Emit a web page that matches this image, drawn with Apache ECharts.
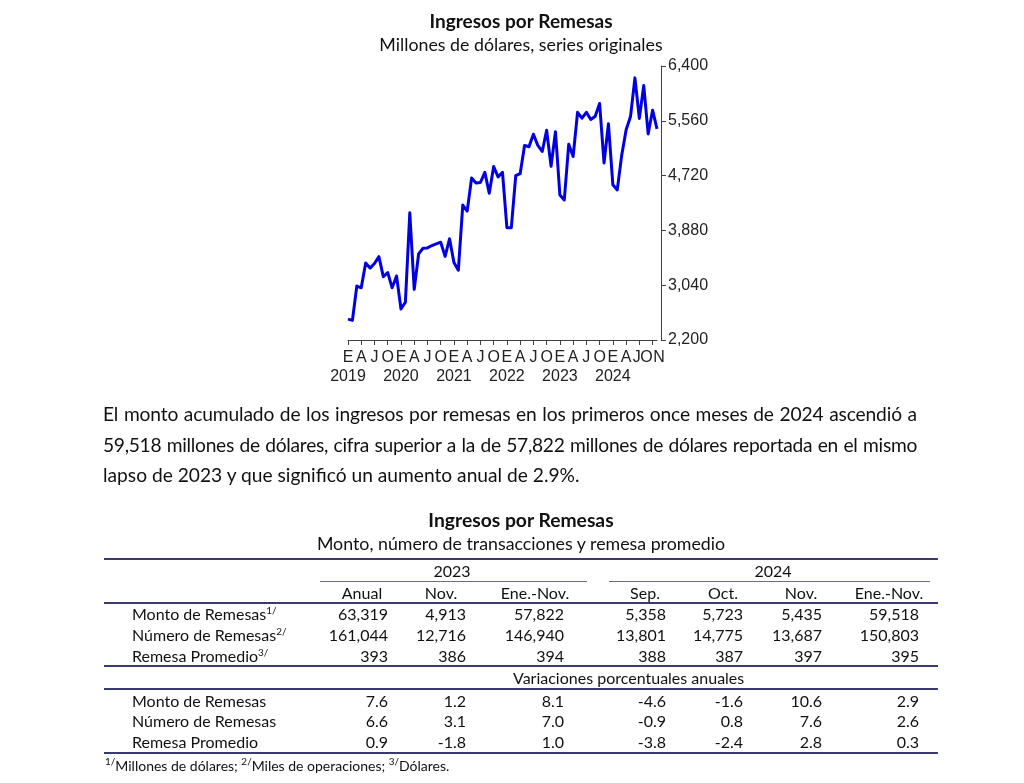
<!DOCTYPE html>
<html>
<head>
<meta charset="utf-8">
<script src="https://cdn.jsdelivr.net/npm/echarts@6/dist/echarts.min.js"></script>
<style>
  html, body { margin: 0; padding: 0; background: #ffffff; }
  #page { position: relative; width: 1024px; height: 783px; overflow: hidden; font-family: Lato, "Open Sans", sans-serif; color: #111; }
  #chart { position: absolute; left: 0; top: 0; width: 1024px; height: 783px; }
  #overlay { position: absolute; left: 0; top: 0; width: 1024px; height: 783px; pointer-events: none; }
  .abs { position: absolute; white-space: nowrap; }
  .pline { position: absolute; left: 103px; width: 814px; font-size: 19.2px; line-height: 24px; white-space: nowrap; color: #111; }
  .pline.just { text-align: justify; text-align-last: justify; }
  .hline { position: absolute; height: 0; }
  sup { font-size: 10px; vertical-align: 0; position: relative; top: -6px; }
</style>
</head>
<body>
<div id="page">
  <div id="chart"></div>
  <div id="overlay"></div>
</div>
<script>
// ---------- Chart data ----------
const yearLabels = ['2019', '2020', '2021', '2022', '2023', '2024'];
const monthLetters = [
  'E','','','A','','','J','','','O','','',
  'E','','','A','','','J','','','O','','',
  'E','','','A','','','J','','','O','','',
  'E','','','A','','','J','','','O','','',
  'E','','','A','','','J','','','O','','',
  'E','','','A','','','J','','','O','N'
];
const remesas = [
  2520, 2500, 3027, 3000, 3379, 3302, 3373, 3477, 3171, 3234, 3000, 3182,
  2675, 2779, 4149, 2976, 3519, 3606, 3612, 3648, 3674, 3699, 3482, 3751,
  3389, 3271, 4268, 4175, 4682, 4605, 4614, 4769, 4449, 4858, 4700, 4769,
  3922, 3922, 4718, 4749, 5183, 5163, 5354, 5183, 5090, 5416, 4862, 5392,
  4423, 4346, 5199, 5012, 5690, 5600, 5690, 5580, 5630, 5825, 4913, 5515,
  4578, 4501, 5030, 5418, 5625, 6218, 5597, 6100, 5358, 5723, 5435
];
const yMin = 2200, yMax = 6400, yStep = 840;

// ---------- Table data ----------
const tableTitle = 'Ingresos por Remesas';
const tableSubtitle = 'Monto, número de transacciones y remesa promedio';
const groupYears = ['2023', '2024'];
const colHeaders = ['Anual', 'Nov.', 'Ene.-Nov.', 'Sep.', 'Oct.', 'Nov.', 'Ene.-Nov.'];
const rowLabels = ['Monto de Remesas', 'Número de Remesas', 'Remesa Promedio'];
const rowNotes = ['1/', '2/', '3/'];
const levelRows = [
  ['63,319', '4,913', '57,822', '5,358', '5,723', '5,435', '59,518'],
  ['161,044', '12,716', '146,940', '13,801', '14,775', '13,687', '150,803'],
  ['393', '386', '394', '388', '387', '397', '395']
];
const changeTitle = 'Variaciones porcentuales anuales';
const changeRows = [
  ['7.6', '1.2', '8.1', '-4.6', '-1.6', '10.6', '2.9'],
  ['6.6', '3.1', '7.0', '-0.9', '0.8', '7.6', '2.6'],
  ['0.9', '-1.8', '1.0', '-3.8', '-2.4', '2.8', '0.3']
];
const paragraphLines = [
  'El monto acumulado de los ingresos por remesas en los primeros once meses de 2024 ascendió a',
  '59,518 millones de dólares, cifra superior a la de 57,822 millones de dólares reportada en el mismo',
  'lapso de 2023 y que significó un aumento anual de 2.9%.'
];
const footnote = '<sup>1/</sup>Millones de dólares; <sup>2/</sup>Miles de operaciones; <sup>3/</sup>Dólares.';

// ---------- Chart ----------
const categories = monthLetters.map((m, i) => yearLabels[Math.floor(i / 12)] + '-' + String(i % 12 + 1).padStart(2, '0'));
// small label nudges for the crowded end of the axis (layout only)
const labelNudge = { 66: 'jn', 69: 'on', 70: 'nn' };

const chart = echarts.init(document.getElementById('chart'), null, { renderer: 'canvas' });
const AX_FONT = '"Liberation Sans", Arial, sans-serif';
const AX_SIZE = 16;
const lab = (extra) => Object.assign({ fontFamily: AX_FONT, fontSize: AX_SIZE, color: '#222', lineHeight: 19 }, extra || {});
chart.setOption({
  animation: false,
  backgroundColor: 'transparent',
  title: {
    text: 'Ingresos por Remesas',
    subtext: 'Millones de dólares, series originales',
    left: 516, top: 7, textAlign: 'center', itemGap: 5,
    textStyle: { fontFamily: 'Lato', fontWeight: 'bold', fontSize: 19, color: '#111' },
    subtextStyle: { fontFamily: 'Lato', fontSize: 17.8, color: '#111' }
  },
  grid: { left: 348, right: 367, top: 66, bottom: 443, containLabel: false },
  xAxis: {
    type: 'category',
    data: categories,
    boundaryGap: false,
    axisLine: { lineStyle: { color: '#404040', width: 1 } },
    axisTick: { interval: (i) => i % 3 === 0, length: 5, lineStyle: { color: '#404040' } },
    axisLabel: {
      interval: 0,
      margin: 8,
      hideOverlap: false,
      fontFamily: AX_FONT, fontSize: AX_SIZE, color: '#222',
      formatter: (val, i) => {
        const m = monthLetters[i];
        if (!m) return '';
        const tag = labelNudge[i] || 'm';
        let s = '{' + tag + '|' + m + '}';
        if (i % 12 === 0) s += '\n{y|' + yearLabels[i / 12] + '}';
        return s;
      },
      rich: {
        m: lab(),
        y: lab(),
        jn: lab({ padding: [0, 5, 0, 0] }),
        on: lab({ padding: [0, 12, 0, 0] }),
        nn: lab({ padding: [0, 0, 0, 4] })
      }
    },
    splitLine: { show: false }
  },
  yAxis: {
    type: 'value',
    position: 'right',
    offset: 4,
    min: yMin, max: yMax, interval: yStep,
    axisLine: { show: true, lineStyle: { color: '#404040', width: 1 } },
    axisTick: { show: true, length: 5, lineStyle: { color: '#404040' } },
    axisLabel: {
      margin: 7, fontFamily: AX_FONT, fontSize: AX_SIZE, color: '#222',
      formatter: (v) => v.toLocaleString('en-US')
    },
    splitLine: { show: false }
  },
  series: [{
    type: 'line',
    data: remesas,
    symbol: 'none',
    smooth: false,
    lineStyle: { color: '#0000e0', width: 3, join: 'round' },
    itemStyle: { color: '#0000e0' }
  }]
});

// ---------- HTML text & table ----------
const ov = document.getElementById('overlay');
function addText(txt, opts) {
  const d = document.createElement('div');
  d.className = 'abs';
  d.innerHTML = txt;
  Object.assign(d.style, opts);
  ov.appendChild(d);
  return d;
}
function addLine(x1, x2, y, w, color) {
  const d = document.createElement('div');
  d.className = 'hline';
  Object.assign(d.style, { left: x1 + 'px', width: (x2 - x1) + 'px', top: (y - w / 2) + 'px', borderTop: w + 'px solid ' + color });
  ov.appendChild(d);
}

// paragraph: three lines, first two justified to the full width
const paraY = [414, 444.5, 475];
const paraWidth = 814;
paragraphLines.forEach((t, k) => {
  const d = document.createElement('div');
  d.className = 'pline' + (k < paragraphLines.length - 1 ? ' just' : '');
  d.style.top = (paraY[k] - 12) + 'px';
  d.textContent = t;
  ov.appendChild(d);
  if (k < paragraphLines.length - 1) {
    // measure natural width; tighten letter spacing if it does not fit
    const probe = document.createElement('span');
    probe.textContent = t;
    probe.style.cssText = 'position:absolute;visibility:hidden;white-space:nowrap;font-size:19.2px;font-family:Lato';
    ov.appendChild(probe);
    const w = probe.getBoundingClientRect().width;
    ov.removeChild(probe);
    const minGap = 14; // keep some room for word spacing
    if (w > paraWidth - minGap) {
      d.style.letterSpacing = ((paraWidth - minGap - w) / t.length).toFixed(3) + 'px';
    }
  }
});

// layout constants
const TBL_FONT = 16;
const colRight = [388, 466, 564, 666, 743, 822, 919];
const headCenter = [362, 441, 535, 645, 723, 801, 889];
const labelLeft = 132;
const lineL = 104, lineR = 938;
const navy = '#3a3a72';
function textAtCenterY(txt, y, extra, fsz) {
  const fs = fsz || TBL_FONT;
  return addText(txt, Object.assign({ top: (y - fs * 0.62) + 'px', fontSize: fs + 'px', lineHeight: (fs * 1.24) + 'px' }, extra || {}));
}
function rightAt(txt, x, y) {
  return textAtCenterY(txt, y, { right: (1024 - x) + 'px', textAlign: 'right' });
}
function centerAt(txt, x, y, extra, fsz) {
  return textAtCenterY(txt, y, Object.assign({ left: (x - 250) + 'px', width: '500px', textAlign: 'center' }, extra || {}), fsz);
}

centerAt(tableTitle, 521, 520, { fontWeight: 'bold' }, 19.3);
centerAt(tableSubtitle, 521, 543, {}, 17.8);
addLine(lineL, lineR, 559, 2, navy);
centerAt(groupYears[0], 452, 571);
centerAt(groupYears[1], 773, 571);
addLine(320, 587, 581, 1, '#6c6c90');
addLine(609, 930, 581, 1, '#6c6c90');
colHeaders.forEach((h, j) => centerAt(h, headCenter[j], 593));
addLine(lineL, lineR, 603, 2, navy);
const levelY = [614, 635, 656];
rowLabels.forEach((labTxt, r) => {
  textAtCenterY(labTxt + '<sup>' + rowNotes[r] + '</sup>', levelY[r], { left: labelLeft + 'px' });
  levelRows[r].forEach((v, j) => rightAt(v, colRight[j], levelY[r]));
});
addLine(lineL, lineR, 666, 2, navy);
textAtCenterY(changeTitle, 678, { left: '513px' });
addLine(lineL, lineR, 689, 2, navy);
const changeY = [701, 721, 742];
rowLabels.forEach((labTxt, r) => {
  textAtCenterY(labTxt, changeY[r], { left: labelLeft + 'px' });
  changeRows[r].forEach((v, j) => rightAt(v, colRight[j], changeY[r]));
});
addLine(lineL, lineR, 753, 2, navy);
textAtCenterY(footnote, 766, { left: '105px' }, 14);
</script>
</body>
</html>
